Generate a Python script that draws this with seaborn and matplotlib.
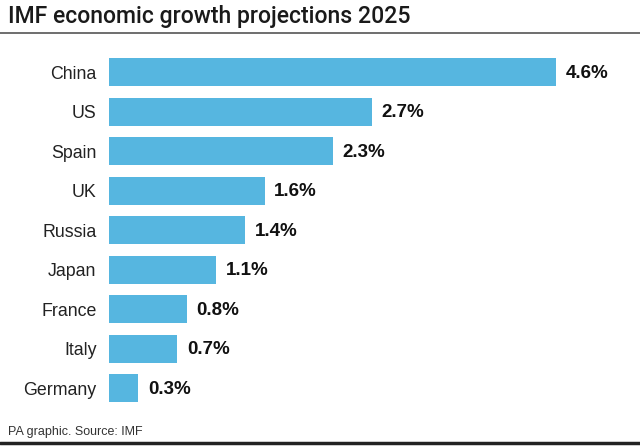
import matplotlib.pyplot as plt
import seaborn as sns
import pandas as pd

paises = ['China', 'US', 'Spain', 'UK', 'Russia', 'Japan', 'France', 'Italy', 'Germany']
crescimento = [4.6, 2.7, 2.3, 1.6, 1.4, 1.1, 0.8, 0.7, 0.3]
rotulos = ['4.6%', '2.7%', '2.3%', '1.6%', '1.4%', '1.1%', '0.8%', '0.7%', '0.3%']

df = pd.DataFrame({'Pais': paises, 'Cresc': crescimento})

sns.set_style('white')
plt.rcParams['font.family'] = ['Liberation Sans', 'DejaVu Sans']

fig = plt.figure(figsize=(6.4, 4.46), dpi=100)
ax = fig.add_axes([0.1703, 0.0857, 0.79, 0.797])

# Barras horizontais
sns.barplot(data=df, x='Cresc', y='Pais', orient='h', color='#56B6E0', saturation=1,
            width=0.71, linewidth=0, ax=ax)

ax.set_xlim(0, 5.2)
ax.set_ylim(8.5, -0.5)
ax.set_xlabel('')
ax.set_ylabel('')
ax.set_xticks([])
sns.despine(ax=ax, left=True, bottom=True)
ax.tick_params(axis='y', length=0, pad=9, labelsize=12.8, labelcolor='#222222')

# Rótulos de valor
for i, (v, r) in enumerate(zip(crescimento, rotulos)):
    ax.text(v + 0.1, i + 0.03, r, va='center', ha='left', fontsize=13.5, fontweight='bold',
            color='#111111')

# Título e linhas
fig.text(0.012, 1 - 17 / 446, 'IMF economic growth projections 2025', fontsize=16.6,
         fontweight='medium', family=['Roboto', 'DejaVu Sans'], color='#1a1a1a',
         va='center', ha='left')
fig.add_artist(plt.Line2D([0, 1], [1 - 33 / 446, 1 - 33 / 446], color='#555555', lw=1.2))
fig.text(0.012, 1 - 432 / 446, 'PA graphic. Source: IMF', fontsize=9, color='#333333',
         va='center', ha='left')
fig.add_artist(plt.Line2D([0, 1], [1 - 443 / 446, 1 - 443 / 446], color='#222222', lw=2.5))

plt.savefig('out.png', dpi=100)
